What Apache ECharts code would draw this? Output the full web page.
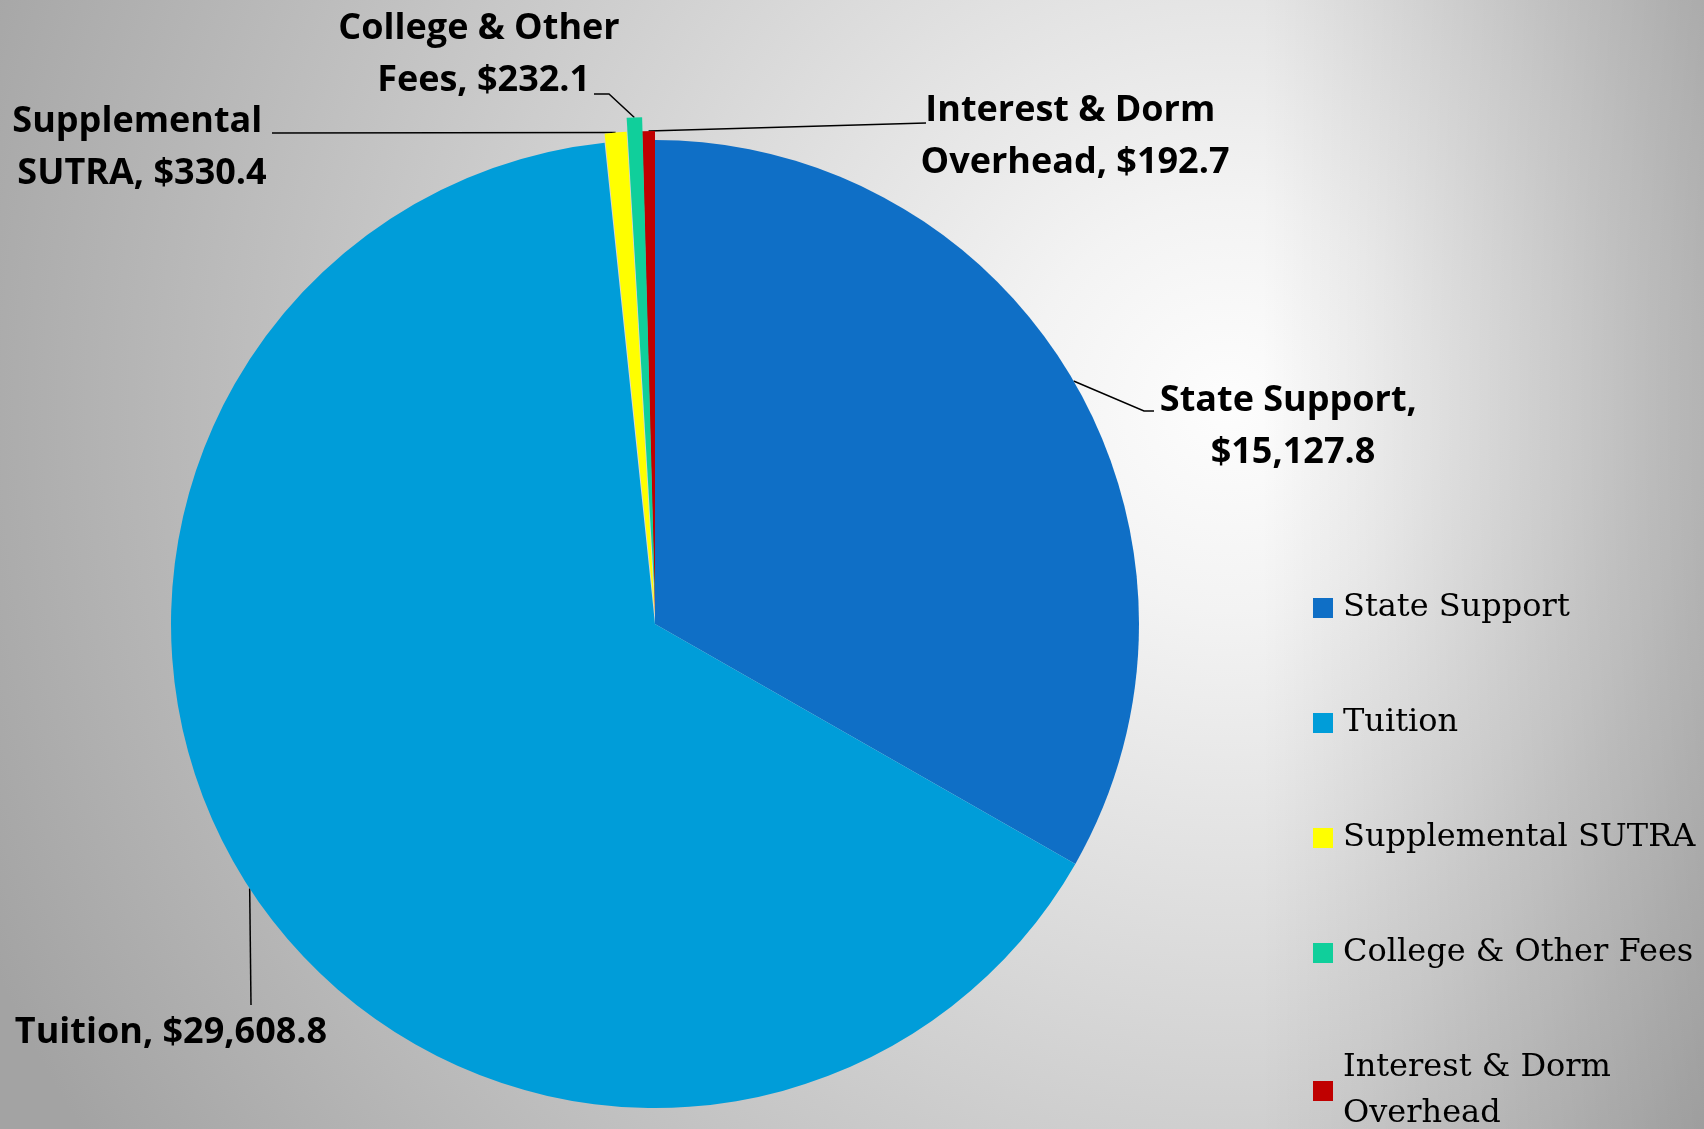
<!DOCTYPE html>
<html>
<head>
<meta charset="utf-8">
<script src="https://cdn.jsdelivr.net/npm/echarts@6/dist/echarts.min.js"></script>
<style>
    html, body {margin: 0; padding: 0;}
    #chart {width: 1704px; height: 1129px;}
</style>
</head>
<body>
<div id="chart"></div>
<script>
// 数据 (clockwise from 12 o'clock)
const names = ['State Support', 'Tuition', 'Supplemental SUTRA', 'College & Other Fees', 'Interest & Dorm Overhead']
const values = [15127.8, 29608.8, 330.4, 232.1, 192.7]
const colors = ['#0F6FC6', '#009DD9', '#FFFF00', '#10CF9B', '#C00000']

// how far each slice is pulled out of the pie (px)
const explode = [0, 0, 9, 23, 9]
// label block centres and leader line bends
const labelAt = [[1293, 427], [171, 1033], [142, 148], [479, 55], [1075, 137]]
const bendAt = [
    [[1144, 411], [1154, 411]],
    [[251, 1005], [251, 1005]],
    [[272, 133], [272, 133]],
    [[609, 94], [594, 94]],
    [[926, 123], [926, 123]]
]
const labelWidth = [340, 420, 290, 340, 370]

const CX = 655, CY = 624, R = 484

let chart = echarts.init(document.getElementById('chart'))

function money(v) {
    return '$' + v.toLocaleString('en-US', {minimumFractionDigits: 1, maximumFractionDigits: 1})
}

// one pie per explode distance, the other slices kept invisible so angles stay the same
const offsets = [...new Set(explode)]
const series = offsets.map(off => ({
    type: 'pie',
    center: [CX, CY - off],
    radius: R,
    startAngle: 90,
    clockwise: true,
    avoidLabelOverlap: false,
    minShowLabelAngle: 0,
    silent: true,
    emphasis: {disabled: true},
    label: {
        show: true,
        position: 'outside',
        formatter: p => p.name + ', ' + money(p.value),
        fontFamily: '"Open Sans", sans-serif',
        fontWeight: 'bold',
        fontSize: 36,
        lineHeight: 52,
        color: '#000',
        overflow: 'break'
    },
    labelLine: {
        show: true,
        smooth: false,
        lineStyle: {color: '#000', width: 1.5}
    },
    labelLayout: function (params) {
        const i = params.dataIndex
        if (explode[i] !== off) return {}
        const p0 = params.labelLinePoints ? params.labelLinePoints[0] : [CX, CY - R]
        return {
            x: labelAt[i][0],
            y: labelAt[i][1],
            align: 'center',
            verticalAlign: 'middle',
            labelLinePoints: [p0, bendAt[i][0], bendAt[i][1]]
        }
    },
    data: names.map((n, i) => {
        const shown = explode[i] === off
        return {
            name: n,
            value: values[i],
            itemStyle: {color: colors[i], opacity: shown ? 1 : 0},
            label: {show: shown, width: labelWidth[i]},
            labelLine: {show: shown}
        }
    })
}))

const option = {
    backgroundColor: {
        type: 'radial',
        x: 0.72,
        y: 0.36,
        r: 1.2,
        colorStops: [
            {offset: 0, color: '#fdfdfd'},
            {offset: 0.15, color: '#f3f3f3'},
            {offset: 1, color: '#a3a3a3'}
        ]
    },
    animation: false,
    // darker toward the right edge
    graphic: [{
        type: 'rect',
        z: -10,
        silent: true,
        shape: {x: 0, y: 0, width: 1704, height: 1129},
        style: {
            fill: {
                type: 'linear', x: 0, y: 0, x2: 1, y2: 0,
                colorStops: [
                    {offset: 0, color: 'rgba(0,0,0,0)'},
                    {offset: 0.74, color: 'rgba(0,0,0,0)'},
                    {offset: 1, color: 'rgba(0,0,0,0.2)'}
                ]
            }
        }
    }],
    legend: {
        orient: 'vertical',
        left: 1308,
        top: 580,
        height: 620,
        itemWidth: 20,
        itemHeight: 20,
        itemGap: 69,
        icon: 'rect',
        selectedMode: false,
        textStyle: {
            fontFamily: '"DejaVu Serif", serif',
            fontSize: 32,
            lineHeight: 46,
            color: '#000',
            width: 390,
            overflow: 'break',
            padding: [0, 0, 0, 5]
        },
        data: names.map((n, i) => ({name: n, itemStyle: {color: colors[i], opacity: 1}}))
    },
    series: series
}
chart.setOption(option)
</script>
</body>
</html>
